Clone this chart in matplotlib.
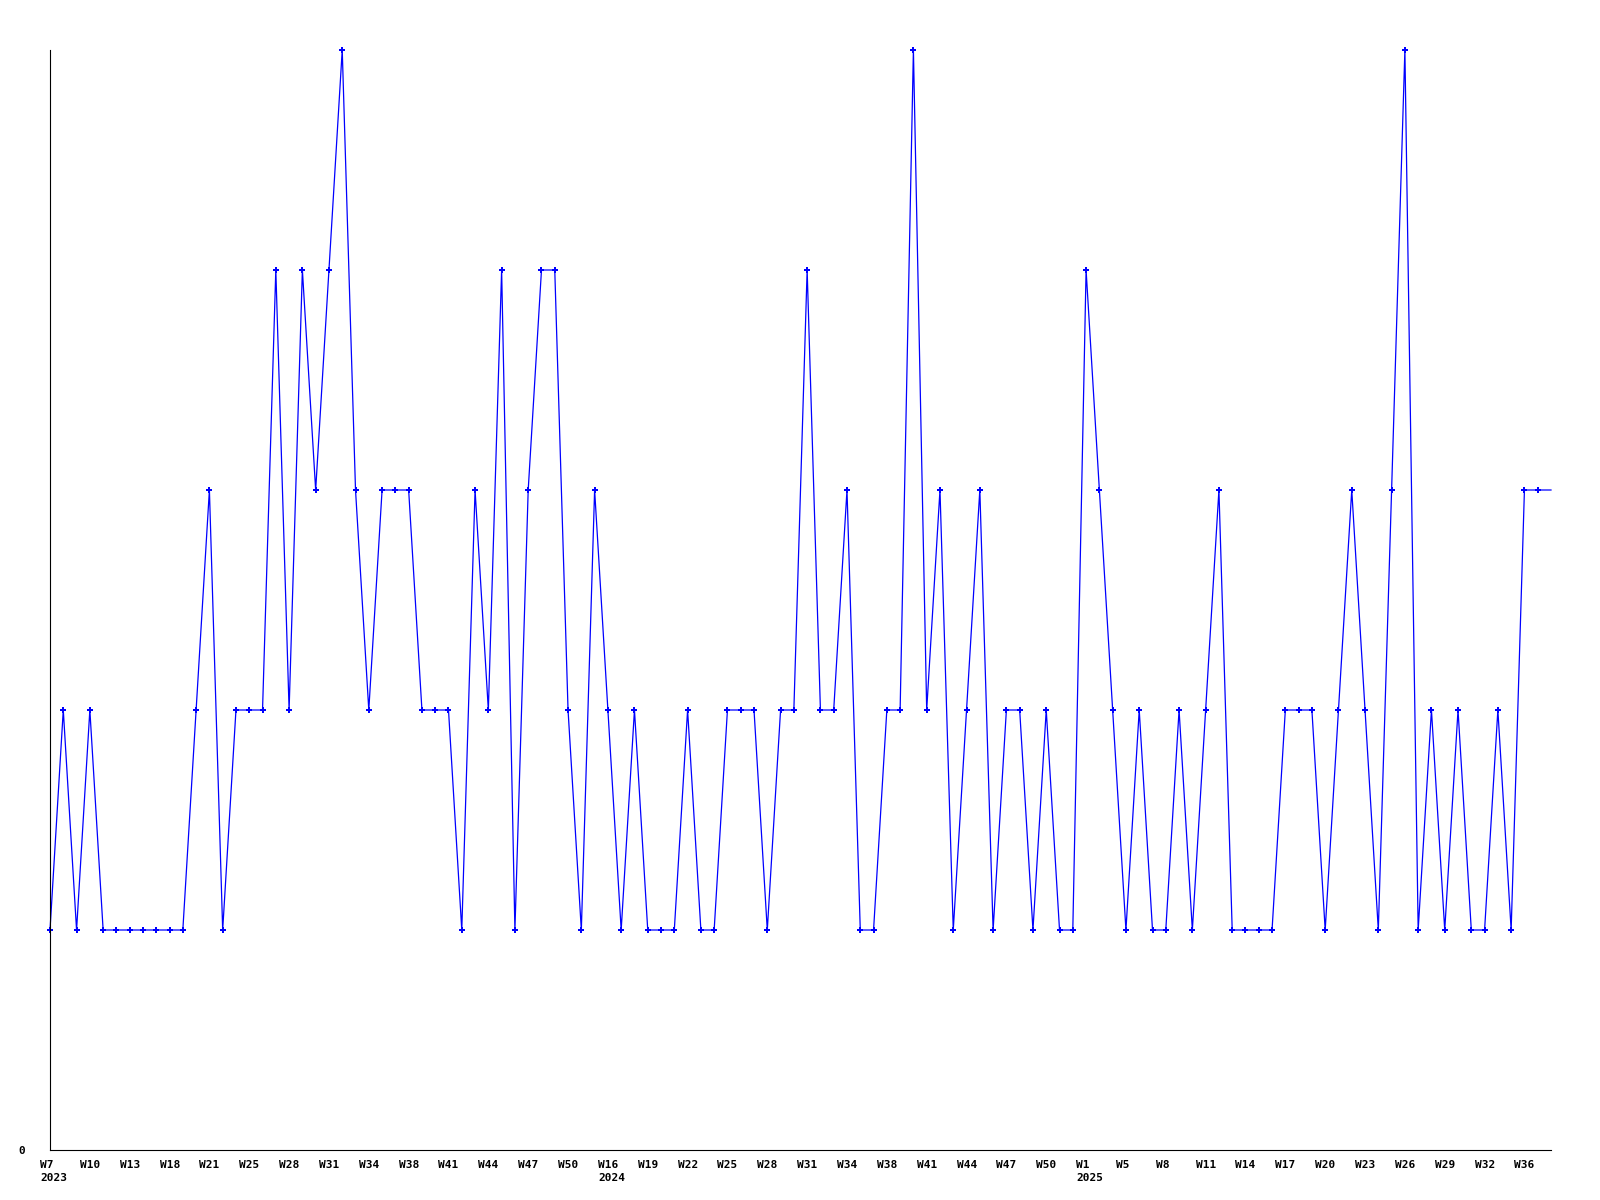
import matplotlib
matplotlib.use("Agg")
import matplotlib.pyplot as plt
from matplotlib.transforms import ScaledTranslation

# weekly counts, one per plotted week (2023 W7 -> 2025 W37-ish)
counts = [
    1, 2, 1, 2, 1, 1, 1, 1, 1, 1, 1, 2, 3, 1, 2, 2, 2, 4, 2, 4,
    3, 4, 5, 3, 2, 3, 3, 3, 2, 2, 2, 1, 3, 2, 4, 1, 3, 4, 4, 2,
    1, 3, 2, 1, 2, 1, 1, 1, 2, 1, 1, 2, 2, 2, 1, 2, 2, 4, 2, 2,
    3, 1, 1, 2, 2, 5, 2, 3, 1, 2, 3, 1, 2, 2, 1, 2, 1, 1, 4, 3,
    2, 1, 2, 1, 1, 2, 1, 2, 3, 1, 1, 1, 1, 2, 2, 2, 1, 2, 3, 2,
    1, 3, 5, 1, 2, 1, 2, 1, 1, 2, 1, 3, 3, 3,
]

week_labels = [
    "W7", "W10", "W13", "W18", "W21", "W25", "W28", "W31", "W34", "W38",
    "W41", "W44", "W47", "W50", "W16", "W19", "W22", "W25", "W28", "W31",
    "W34", "W38", "W41", "W44", "W47", "W50", "W1", "W5", "W8", "W11",
    "W14", "W17", "W20", "W23", "W26", "W29", "W32", "W36",
]
year_marks = {0: "2023", 14: "2024", 26: "2025"}  # label index -> year

fig = plt.figure(figsize=(16, 12), dpi=100)
ax = fig.add_axes([50 / 1600, 50 / 1200, 1501 / 1600, 1100 / 1200])

x = list(range(len(counts)))
ax.plot(x, counts, color="#0000ff", lw=0.9, marker="P", markersize=4,
        markeredgewidth=0, markevery=list(range(len(counts) - 1)),
        clip_on=False)

ax.set_xlim(0, len(counts) - 1)
ax.set_ylim(0, 5)

labels = [w + ("\n" + year_marks[i] if i in year_marks else "")
          for i, w in enumerate(week_labels)]
ax.set_xticks(range(0, 3 * len(week_labels), 3), labels=labels)
ax.set_yticks([0], labels=["0"])
ax.tick_params(length=0, labelsize=8)
ax.tick_params(axis="x", pad=7)
ax.tick_params(axis="y", pad=18)

shift = ScaledTranslation(-10 / 100, 0, fig.dpi_scale_trans)
for lab in ax.get_xticklabels():
    lab.set_horizontalalignment("left")
    lab.set_transform(lab.get_transform() + shift)
    lab.set_linespacing(1.35)
for lab in ax.get_xticklabels() + ax.get_yticklabels():
    lab.set_fontfamily("DejaVu Sans Mono")
    lab.set_fontweight("bold")

for side in ["top", "right"]:
    ax.spines[side].set_visible(False)
for side in ["left", "bottom"]:
    ax.spines[side].set_linewidth(0.8)
    ax.spines[side].set_color("black")

fig.savefig("out.png", dpi=100)
